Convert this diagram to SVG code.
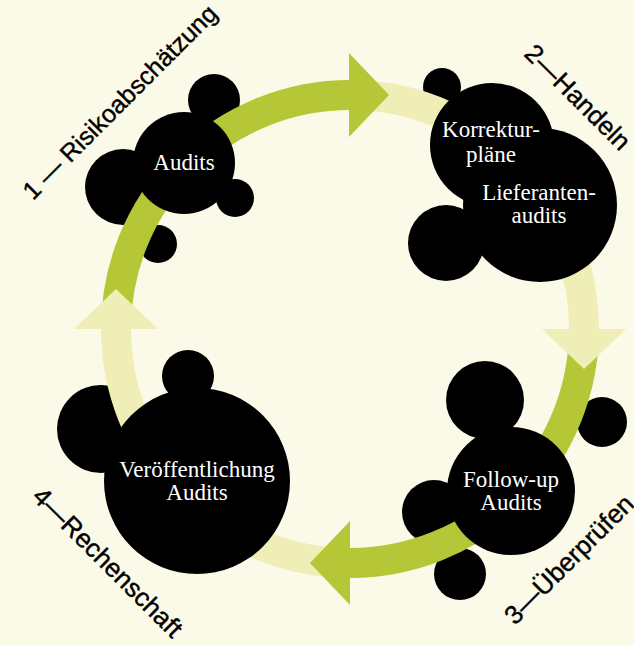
<svg xmlns="http://www.w3.org/2000/svg" width="634" height="645" viewBox="0 0 634 645">
<style>
.bg{fill:#fbfae9}
.blob{fill:#000}
.green{fill:none;stroke:#b5c637;stroke-width:30}
.light{fill:none;stroke:#eeeeb6;stroke-width:30}
.gh{fill:#b5c637}
.lh{fill:#eeeeb6}
.nt{font-family:"Liberation Serif","Times New Roman",serif;font-size:23px;fill:#fff;text-anchor:middle}
.lb{font-family:"Liberation Sans",Arial,sans-serif;font-size:26px;fill:#000;stroke:#000;stroke-width:0.4}
</style>
<rect class="bg" x="0" y="0" width="634" height="645"/>
<g id="bubbles">
<circle class="blob" cx="214" cy="100" r="26"/>
<circle class="blob" cx="123" cy="187" r="38"/>
<circle class="blob" cx="235" cy="198" r="19"/>
<circle class="blob" cx="158" cy="244" r="19"/>
<circle class="blob" cx="442" cy="87" r="19"/>
<circle class="blob" cx="446" cy="243" r="38"/>
<circle class="blob" cx="485" cy="400" r="39"/>
<circle class="blob" cx="602" cy="422" r="25"/>
<circle class="blob" cx="434" cy="512" r="32"/>
<circle class="blob" cx="460" cy="574" r="26"/>
<circle class="blob" cx="188" cy="376" r="26"/>
<circle class="blob" cx="101" cy="429" r="44"/>
</g>
<g id="connectors">
<path class="green" d="M116 329 A234 234 0 0 1 350 95"/>
<path class="light" d="M350 95 A234 234 0 0 1 584 329"/>
<path class="green" d="M584 329 A234 234 0 0 1 350 563"/>
<path class="light" d="M350 563 A234 234 0 0 1 116 329"/>
<polygon class="gh" points="349,53 389,95 349,137"/>
<polygon class="lh" points="542,329 626,329 584,369"/>
<polygon class="gh" points="350,521 350,605 310,563"/>
<polygon class="lh" points="74,329 158,329 116,289"/>
</g>
<g id="node1">
<circle class="blob" cx="184" cy="163" r="51"/>
<text class="nt" x="184" y="170">Audits</text>
</g>
<g id="node2">
<circle class="blob" cx="492" cy="145" r="62"/>
<circle class="blob" cx="540" cy="205" r="77"/>
<text class="nt" x="491" y="137">Korrektur-</text>
<text class="nt" x="491" y="162">pläne</text>
<text class="nt" x="539" y="200">Lieferanten-</text>
<text class="nt" x="539" y="223">audits</text>
</g>
<g id="node3">
<circle class="blob" cx="511" cy="491" r="64"/>
<text class="nt" x="511" y="487">Follow-up</text>
<text class="nt" x="511" y="510">Audits</text>
</g>
<g id="node4">
<circle class="blob" cx="197" cy="481" r="93"/>
<text class="nt" x="197" y="477">Veröffentlichung</text>
<text class="nt" x="197" y="500">Audits</text>
</g>
<g id="labels">
<text class="lb" style="font-size:25px" transform="translate(33 201) rotate(-45)">1 — Risikoabschätzung</text>
<text class="lb" transform="translate(523 55) rotate(45)">2—Handeln</text>
<text class="lb" transform="translate(515 626) rotate(-45)">3—Überprüfen</text>
<text class="lb" transform="translate(31 498) rotate(45)">4—Rechenschaft</text>
</g>
</svg>
